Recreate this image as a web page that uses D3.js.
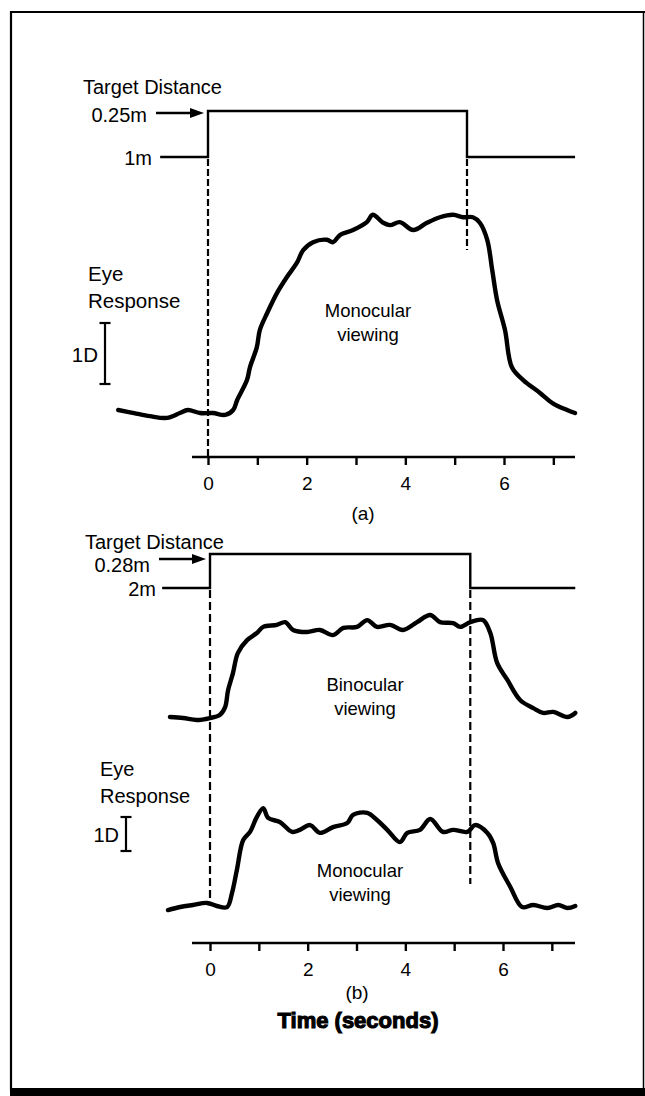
<!DOCTYPE html>
<html>
<head>
<meta charset="utf-8">
<script src="https://cdn.jsdelivr.net/npm/d3@7"></script>
<style>
  html, body { margin: 0; padding: 0; background: #fff; }
  svg { display: block; }
  text { font-family: "Liberation Sans", Arial, Helvetica, sans-serif; fill: #000; }
</style>
</head>
<body>
<svg id="chart" width="645" height="1096"></svg>
<script>
// ---------------- DATA ----------------
// Time axis ticks (seconds)
const timeTicks = [0, 1, 2, 3, 4, 5, 6, 7];
const timeTickLabels = ["0", "", "2", "", "4", "", "6", ""];

// Target distance steps (values in diopters; labels in metres)
const targetA = [[-0.97, 1], [0, 1], [0, 4], [5.25, 4], [5.25, 1], [7.44, 1]];
const targetALabels = { far: "1m", near: "0.25m" };
const targetB = [[-0.98, 0.5], [0, 0.5], [0, 3.57], [5.33, 3.57], [5.33, 0.5], [7.48, 0.5]];
const targetBLabels = { far: "2m", near: "0.28m" };

// Eye response traces: [time (s), response (D, relative)]
const monoA = [
  [-1.82, 0.00], [-1.50, -0.05], [-1.18, -0.10], [-0.83, -0.13], [-0.57, -0.05],
  [-0.41, 0.00], [-0.16, -0.05], [0.10, -0.05], [0.35, -0.08], [0.51, 0.00],
  [0.59, 0.16], [0.79, 0.49], [0.85, 0.70], [0.99, 1.03], [1.05, 1.31],
  [1.20, 1.59], [1.40, 1.92], [1.60, 2.18], [1.80, 2.41], [1.93, 2.62],
  [2.13, 2.75], [2.41, 2.79], [2.53, 2.75], [2.68, 2.87], [2.94, 2.95],
  [3.22, 3.08], [3.34, 3.20], [3.55, 3.07], [3.69, 3.03], [3.89, 3.08],
  [4.16, 2.95], [4.44, 3.07], [4.70, 3.16], [4.97, 3.20], [5.17, 3.16],
  [5.37, 3.16], [5.51, 3.07], [5.66, 2.79], [5.76, 2.30], [5.86, 1.80],
  [6.02, 1.31], [6.16, 0.70], [6.39, 0.49], [6.73, 0.28], [6.99, 0.11],
  [7.28, 0.00], [7.44, -0.05]
];
const binoB = [
  [-0.82, 0.00], [-0.55, -0.03], [-0.27, -0.09], [0.00, -0.03], [0.20, 0.06],
  [0.31, 0.29], [0.37, 0.79], [0.47, 1.29], [0.57, 1.88], [0.76, 2.26],
  [0.96, 2.47], [1.09, 2.65], [1.37, 2.71], [1.54, 2.79], [1.70, 2.56],
  [1.99, 2.50], [2.25, 2.56], [2.52, 2.41], [2.73, 2.62], [3.01, 2.65],
  [3.22, 2.85], [3.42, 2.65], [3.69, 2.71], [3.95, 2.56], [4.24, 2.79],
  [4.51, 3.00], [4.71, 2.79], [4.98, 2.76], [5.12, 2.65], [5.33, 2.79],
  [5.59, 2.85], [5.74, 2.47], [5.88, 1.59], [6.09, 1.09], [6.35, 0.50],
  [6.62, 0.26], [6.82, 0.12], [7.03, 0.15], [7.32, 0.00], [7.48, 0.12]
];
const monoB = [
  [-0.86, -0.12], [-0.61, -0.03], [-0.35, 0.03], [-0.06, 0.09], [0.14, 0.00],
  [0.35, -0.03], [0.45, 0.38], [0.55, 1.06], [0.68, 1.94], [0.82, 2.18],
  [0.96, 2.62], [1.09, 2.88], [1.19, 2.59], [1.43, 2.47], [1.68, 2.18],
  [1.84, 2.24], [2.05, 2.38], [2.25, 2.15], [2.52, 2.32], [2.81, 2.44],
  [2.93, 2.68], [3.22, 2.74], [3.42, 2.53], [3.63, 2.24], [3.89, 1.88],
  [4.04, 2.15], [4.30, 2.24], [4.51, 2.56], [4.77, 2.18], [4.98, 2.24],
  [5.27, 2.18], [5.43, 2.38], [5.68, 2.15], [5.80, 1.85], [5.90, 1.26],
  [6.15, 0.56], [6.39, -0.03], [6.62, 0.03], [6.91, -0.06], [7.13, 0.03],
  [7.32, -0.06], [7.48, 0.00]
];

// ---------------- DRAWING ----------------
const svg = d3.select("#chart");
const W = 645, H = 1096;

// frame
svg.append("line").attr("x1", 11).attr("y1", 12).attr("x2", W).attr("y2", 12)
  .attr("stroke", "#000").attr("stroke-width", 2.2);
svg.append("line").attr("x1", 11).attr("y1", 11).attr("x2", 11).attr("y2", 1090)
  .attr("stroke", "#000").attr("stroke-width", 2.2);
svg.append("line").attr("x1", 643.5).attr("y1", 11).attr("x2", 643.5).attr("y2", 1090)
  .attr("stroke", "#000").attr("stroke-width", 1.5);
svg.append("rect").attr("x", 10).attr("y", 1088).attr("width", W - 10).attr("height", 8)
  .attr("fill", "#000");

function panel(opts) {
  const x = d3.scaleLinear().domain([0, 6]).range(opts.xr);
  const g = svg.append("g");

  // target step
  const yT = d3.scaleLinear().domain(opts.tDom).range(opts.tRange);
  const stepLine = d3.line().x(d => x(d[0])).y(d => yT(d[1]));
  g.append("path").datum(opts.target).attr("d", stepLine)
    .attr("fill", "none").attr("stroke", "#000").attr("stroke-width", 2.4)
    .attr("stroke-linejoin", "miter");

  const yNear = yT(opts.tDom[1]), yFar = yT(opts.tDom[0]);
  g.append("text").attr("x", opts.tdX).attr("y", yNear + opts.tdDy)
    .attr("font-size", 20).attr("dominant-baseline", "central")
    .text("Target Distance");
  g.append("text").attr("x", opts.nearTextEnd).attr("y", yNear + opts.nearDy)
    .attr("font-size", 20).attr("text-anchor", "end").attr("dominant-baseline", "central")
    .text(opts.labels.near);
  // arrow
  const ax0 = opts.nearTextEnd + 9, ax1 = x(0) - 4, ay = yNear + opts.arrowDy;
  g.append("line").attr("x1", ax0).attr("y1", ay).attr("x2", ax1 - 8).attr("y2", ay)
    .attr("stroke", "#000").attr("stroke-width", 2.6);
  g.append("path")
    .attr("d", `M${ax1},${ay} L${ax1 - 14},${ay - 5} L${ax1 - 14},${ay + 5} Z`)
    .attr("fill", "#000");
  g.append("text").attr("x", opts.farTextEnd).attr("y", yFar + 1)
    .attr("font-size", 20).attr("text-anchor", "end").attr("dominant-baseline", "central")
    .text(opts.labels.far);

  // dashed lines
  opts.dashes.forEach(d => {
    g.append("line").attr("x1", x(d.t)).attr("x2", x(d.t))
      .attr("y1", d.y0).attr("y2", d.y1)
      .attr("stroke", "#000").attr("stroke-width", 2.2)
      .attr("stroke-dasharray", opts.dashArray);
  });

  // traces
  opts.traces.forEach(tr => {
    const y = d3.scaleLinear().domain([0, 1]).range([tr.base, tr.base - opts.pxPerD]);
    const line = d3.line().x(d => x(d[0])).y(d => y(d[1]))
      .curve(d3.curveCatmullRom.alpha(0.5));
    g.append("path").datum(tr.data).attr("d", line)
      .attr("fill", "none").attr("stroke", "#000").attr("stroke-width", 4.4)
      .attr("stroke-linejoin", "round").attr("stroke-linecap", "round");
    const lab = g.append("text").attr("x", tr.labX).attr("font-size", 18.5)
      .attr("text-anchor", "middle");
    lab.append("tspan").attr("x", tr.labX).attr("y", tr.labY).attr("dominant-baseline", "central").text(tr.lab1);
    lab.append("tspan").attr("x", tr.labX).attr("y", tr.labY + 24).attr("dominant-baseline", "central").text("viewing");
  });

  // eye response label and 1D bar
  const er = opts.eye;
  g.append("text").attr("x", er.x).attr("y", er.y).attr("font-size", er.fs)
    .attr("dominant-baseline", "central").text("Eye");
  g.append("text").attr("x", er.x).attr("y", er.y + 27).attr("font-size", er.fs)
    .attr("dominant-baseline", "central").text("Response");
  const barY = d3.scaleLinear().domain([0, 1]).range([er.barBottom, er.barBottom - opts.pxPerD]);
  g.append("line").attr("x1", er.barX).attr("x2", er.barX).attr("y1", barY(0)).attr("y2", barY(1))
    .attr("stroke", "#000").attr("stroke-width", 2.2);
  [0, 1].forEach(v => g.append("line").attr("x1", er.barX - 5.5).attr("x2", er.barX + 5.5)
    .attr("y1", barY(v)).attr("y2", barY(v)).attr("stroke", "#000").attr("stroke-width", 2.2));
  g.append("text").attr("x", er.barX - 7).attr("y", (barY(0) + barY(1)) / 2 + 1)
    .attr("font-size", er.fs).attr("text-anchor", "end").attr("dominant-baseline", "central")
    .text("1D");

  // time axis
  const axis = d3.axisBottom(x).tickValues(timeTicks)
    .tickFormat((d, i) => timeTickLabels[i]).tickSize(8).tickPadding(12);
  const ag = g.append("g").attr("transform", `translate(0,${opts.axisY})`).call(axis);
  ag.select(".domain").remove();
  ag.append("line").attr("x1", opts.axisX0).attr("x2", opts.axisX1).attr("y1", 0).attr("y2", 0)
    .attr("stroke", "#000").attr("stroke-width", 2.4);
  ag.selectAll(".tick line").attr("stroke", "#000").attr("stroke-width", 2.4);
  ag.selectAll(".tick text").attr("font-size", 19).attr("fill", "#000")
    .attr("font-family", "Liberation Sans, Arial, sans-serif");
  g.append("text").attr("x", opts.capX).attr("y", opts.capY).attr("font-size", 19)
    .attr("text-anchor", "middle").attr("dominant-baseline", "central").text(opts.caption);
}

panel({
  xr: [208, 504],
  target: targetA, tDom: [1, 4], tRange: [157, 111], labels: targetALabels,
  tdX: 83, tdDy: -24, nearTextEnd: 147, nearDy: 4, arrowDy: 2, farTextEnd: 152,
  dashArray: "7,3",
  dashes: [{ t: 0, y0: 159, y1: 457 }, { t: 5.25, y0: 159, y1: 250 }],
  pxPerD: 61,
  traces: [{ data: monoA, base: 410, lab1: "Monocular", labX: 368, labY: 310 }],
  eye: { x: 88, y: 273, fs: 20.5, barX: 105, barBottom: 384 },
  axisY: 457, axisX0: 192, axisX1: 575,
  caption: "(a)", capX: 363, capY: 513
});

panel({
  xr: [210, 503],
  target: targetB, tDom: [0.5, 3.57], tRange: [588, 554], labels: targetBLabels,
  tdX: 85, tdDy: -12, nearTextEnd: 150, nearDy: 11, arrowDy: 5, farTextEnd: 156,
  dashArray: "8,4",
  dashes: [{ t: 0, y0: 590, y1: 900 }, { t: 5.33, y0: 590, y1: 884 }],
  pxPerD: 34,
  traces: [
    { data: binoB, base: 717, lab1: "Binocular", labX: 365, labY: 684 },
    { data: monoB, base: 906, lab1: "Monocular", labX: 360, labY: 870 }
  ],
  eye: { x: 100, y: 769, fs: 20, barX: 126, barBottom: 851 },
  axisY: 943, axisX0: 192, axisX1: 575,
  caption: "(b)", capX: 357, capY: 992
});

svg.append("text").attr("x", 358).attr("y", 1020).attr("font-size", 22)
  .attr("font-weight", "bold").attr("text-anchor", "middle").attr("dominant-baseline", "central")
  .attr("stroke", "#000").attr("stroke-width", 1.1)
  .text("Time (seconds)");
</script>
</body>
</html>
